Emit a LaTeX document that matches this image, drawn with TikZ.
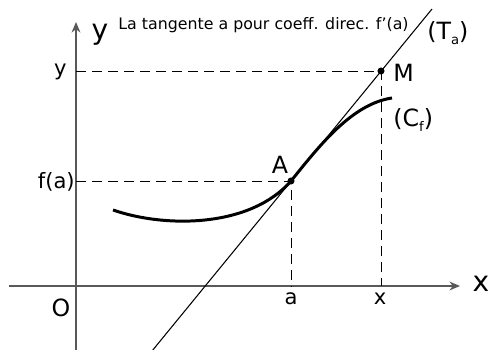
\documentclass[tikz,border=0pt]{standalone}
\usepackage{fontspec}
\setmainfont{DejaVu Sans}
\usetikzlibrary{arrows.meta, positioning}
\newcommand\lowidx[1]{\raisebox{-2.8pt}{\fontsize{7.5}{8}\selectfont #1}}

\begin{document}
\begin{tikzpicture}[x=0.02cm, y=-0.02cm,
  every node/.style={inner sep=0pt, anchor=base},
  axis/.style={draw=black!65, line width=1.1pt, -{Stealth[length=6pt, width=5pt]}},
  guide/.style={line width=0.5pt, dash pattern=on 5.7pt off 3.4pt},
  dot/.style={circle, fill, minimum size=4pt, anchor=center},
  big/.style={font=\fontsize{13.5}{14}\selectfont},
  axname/.style={font=\fontsize{16}{16}\selectfont},
  tick/.style={font=\fontsize{12}{12}\selectfont}]
  \useasboundingbox (0,0) rectangle (489,350);
  % Points
  \coordinate (xstart) at (9,286);
  \coordinate (xend) at (460,286);
  \coordinate (ystart) at (76,350);
  \coordinate (yend) at (76,22);
  \node[dot] (A) at (291,181) {};
  \node[dot] (M) at (381,71) {};
  \coordinate (Ay) at (76,181);
  \coordinate (My) at (76,71);
  \coordinate (Ax) at (291,286);
  \coordinate (Mx) at (381,286);
  \coordinate (tlow) at (152,351);
  \coordinate (thigh) at (432,9);
  \coordinate (cstart) at (113,210);
  \coordinate (cend) at (392,98);
  % Labels
  \node[axname] (ylab) at (100,40) {y};
  \node[axname] (xlab) at (481,292) {x};
  \node[big] (olab) at (61,317) {O};
  \node[big] (alab) at (280,174) {A};
  \node[big, anchor=base west] (mlab) at (393,82) {M};
  \node[big, anchor=base west] (cflab) at (393,127) {(C\lowidx{f})};
  \node[big, anchor=base west] (talab) at (427,40) {(T\lowidx{a})};
  \node[tick, anchor=base east] (fatick) at (75,189) {f(a)};
  \node[tick, anchor=base east] (ytick) at (67,76) {y};
  \node[tick] (atick) at (291,305) {a};
  \node[tick] (xtick) at (380,305) {x};
  \node[font=\fontsize{9}{9}\selectfont, anchor=base west] (title) at (118,30) {La tangente a pour coeff. direc. f’(a)};
  % Axes
  \draw[axis] (xstart) -- (xend);
  \draw[axis] (ystart) -- (yend);
  % Guides
  \draw[guide] (My) -- (M.center) -- (Mx);
  \draw[guide] (Ay) -- (A.center) -- (Ax);
  % Tangent and curve
  \draw[line width=0.6pt] (tlow) -- (thigh);
  \draw[line width=1.7pt] (cstart) .. controls (165,228) and (250,228) .. (A.center)
    .. controls (320,145) and (352,104) .. (cend);
\end{tikzpicture}
\end{document}
